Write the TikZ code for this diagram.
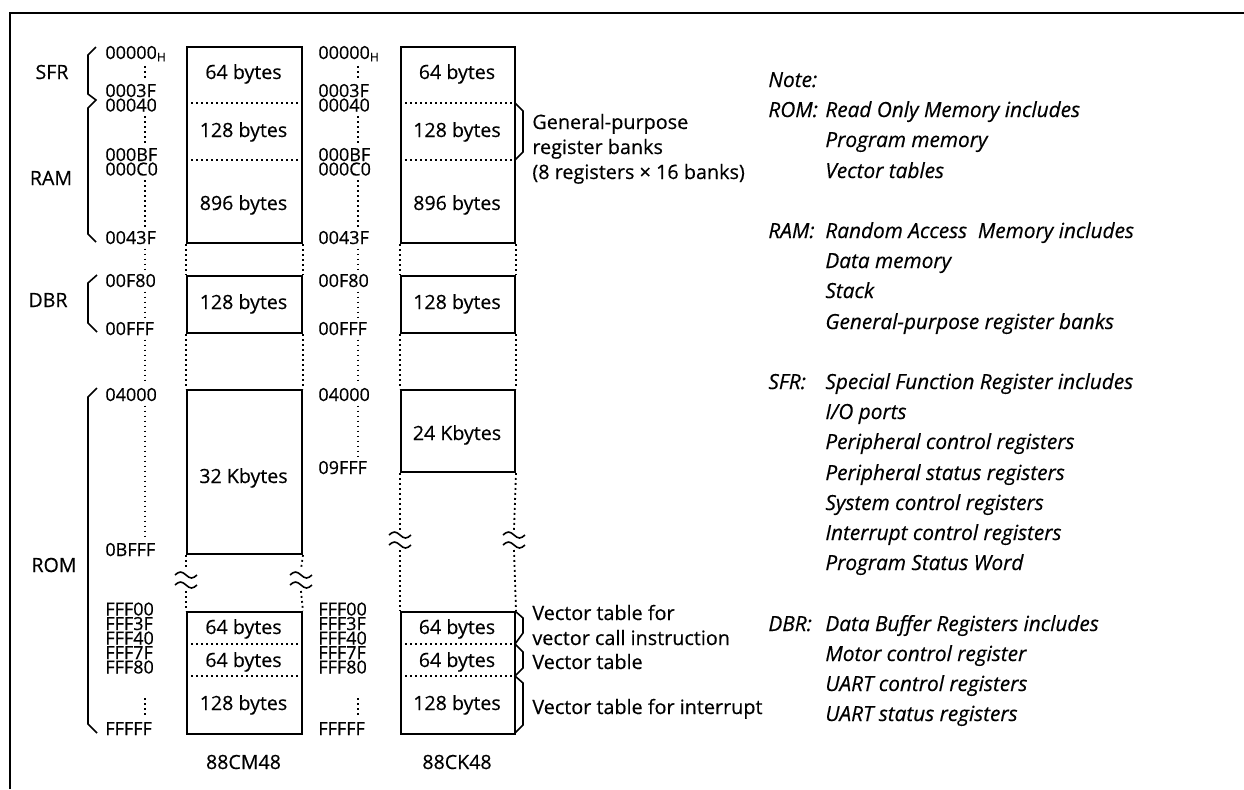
\documentclass[tikz,border=0pt]{standalone}
\usepackage{fontspec}
\setmainfont{Open Sans}[FakeBold=0.4]
\begin{document}
\begin{tikzpicture}[x=0.5pt, y=-0.5pt,
    every node/.style={font=\fontsize{9.8}{11}\selectfont, inner sep=0pt},
    addr/.style={anchor=base west, font=\fontsize{9}{10}\selectfont},
    remark/.style={anchor=base west, font=\fontsize{9.9}{11}\selectfont},
    size/.style={anchor=base},
    note/.style={anchor=base west, font=\fontsize{10.4}{12}\selectfont\itshape},
    blk/.style={draw, line width=1pt, anchor=north west, minimum width=57.5pt},
    dots/.style={line width=0.9pt, dash pattern=on 0.9pt off 1.6pt},
    gap/.style={dots, shorten <=2pt, shorten >=2pt},
    brace/.style={line width=0.8pt},
    pics/brk/.style={code={
        \draw[line width=0.8pt] (-11,-5) sin (-5.5,-8) cos (0,-5) sin (5.5,-2) cos (11,-5);
        \draw[line width=0.8pt] (-11,5) sin (-5.5,2) cos (0,5) sin (5.5,8) cos (11,5);
    }}]
    \useasboundingbox (0,0) rectangle (1244,789);

    % Frame
    \draw[line width=1.3pt] (10,789) -- (10,13) -- (1244,13);

    % Region labels and braces
    \node (lsfr) at (52,72) {SFR};
    \node (lram) at (51,178) {RAM};
    \node (ldbr) at (48,300) {DBR};
    \node (lrom) at (54,565) {ROM};
    \draw[brace] (96,47) -- (88,55) -- (88,94) -- (96,100) -- (88,108) -- (88,234) -- (96,242);
    \draw[brace] (97,275) -- (88,283) -- (88,323) -- (97,332);
    \draw[brace] (97,388) -- (88,397) -- (88,724) -- (97,733);

    % Addresses, 88CM48
    \node[addr] (a00000) at (105,59) {00000\textsubscript{H}};
    \node[addr] (a0003F) at (105,97) {0003F};
    \node[addr] (a00040) at (105,111.5) {00040};
    \node[addr] (a000BF) at (105,161) {000BF};
    \node[addr] (a000C0) at (105,175.5) {000C0};
    \node[addr] (a0043F) at (105,244) {0043F};
    \node[addr] (a00F80) at (105,287) {00F80};
    \node[addr] (a00FFF) at (105,335) {00FFF};
    \node[addr] (a04000) at (105,401) {04000};
    \node[addr] (a0BFFF) at (105,556) {0BFFF};
    \node[addr] (aFFF00) at (105,615.5) {FFF00};
    \node[addr] (aFFF3F) at (105,630) {FFF3F};
    \node[addr] (aFFF40) at (105,644.5) {FFF40};
    \node[addr] (aFFF7F) at (105,659) {FFF7F};
    \node[addr] (aFFF80) at (105,673.5) {FFF80};
    \node[addr] (aFFFFF) at (105,735) {FFFFF};
    \coordinate (ax) at (145,0);
    \draw[gap] (ax |- a00000.south) -- (ax |- a0003F.north);
    \draw[gap] (ax |- a00040.south) -- (ax |- a000BF.north);
    \draw[gap] (ax |- a000C0.south) -- (ax |- a0043F.north);
    \draw[gap] (ax |- a0043F.south) -- (ax |- a00F80.north);
    \draw[gap] (ax |- a00F80.south) -- (ax |- a00FFF.north);
    \draw[gap] (ax |- a00FFF.south) -- (ax |- a04000.north);
    \draw[gap] (ax |- a04000.south) -- (ax |- a0BFFF.north);
    \draw[dots, shorten <=12pt, shorten >=3pt] (ax |- aFFF80.south) -- (ax |- aFFFFF.north);

    % Addresses, 88CK48
    \node[addr] (b00000) at (318,59) {00000\textsubscript{H}};
    \node[addr] (b0003F) at (318,97) {0003F};
    \node[addr] (b00040) at (318,111.5) {00040};
    \node[addr] (b000BF) at (318,161) {000BF};
    \node[addr] (b000C0) at (318,175.5) {000C0};
    \node[addr] (b0043F) at (318,244) {0043F};
    \node[addr] (b00F80) at (318,287) {00F80};
    \node[addr] (b00FFF) at (318,335) {00FFF};
    \node[addr] (b04000) at (318,401) {04000};
    \node[addr] (b09FFF) at (318,474) {09FFF};
    \node[addr] (bFFF00) at (318,615.5) {FFF00};
    \node[addr] (bFFF3F) at (318,630) {FFF3F};
    \node[addr] (bFFF40) at (318,644.5) {FFF40};
    \node[addr] (bFFF7F) at (318,659) {FFF7F};
    \node[addr] (bFFF80) at (318,673.5) {FFF80};
    \node[addr] (bFFFFF) at (318,735) {FFFFF};
    \coordinate (bx) at (358,0);
    \draw[gap] (bx |- b00000.south) -- (bx |- b0003F.north);
    \draw[gap] (bx |- b00040.south) -- (bx |- b000BF.north);
    \draw[gap] (bx |- b000C0.south) -- (bx |- b0043F.north);
    \draw[gap] (bx |- b0043F.south) -- (bx |- b00F80.north);
    \draw[gap] (bx |- b00F80.south) -- (bx |- b00FFF.north);
    \draw[gap] (bx |- b00FFF.south) -- (bx |- b04000.north);
    \draw[gap] (bx |- b04000.south) -- (bx |- b09FFF.north);
    \draw[dots, shorten <=12pt, shorten >=3pt] (bx |- bFFF80.south) -- (bx |- bFFFFF.north);

    % Memory blocks, 88CM48
    \node[blk, minimum height=98pt] (cmram) at (186,46) {};
    \node[blk, minimum height=28.5pt] (cmdbr) at (186,275) {};
    \node[blk, minimum height=82pt] (cmrom) at (186,389) {};
    \node[blk, minimum height=61pt] (cmvec) at (186,611) {};
    \draw[dots] ([yshift=-28.5pt]cmram.north west) -- ([yshift=-28.5pt]cmram.north east);
    \draw[dots] ([yshift=-57pt]cmram.north west) -- ([yshift=-57pt]cmram.north east);
    \draw[dots] ([yshift=-16.5pt]cmvec.north west) -- ([yshift=-16.5pt]cmvec.north east);
    \draw[dots] ([yshift=-32.5pt]cmvec.north west) -- ([yshift=-32.5pt]cmvec.north east);
    \draw[dots] (cmram.south west) -- (cmdbr.north west);
    \draw[dots] (cmram.south east) -- (cmdbr.north east);
    \draw[dots] (cmdbr.south west) -- (cmrom.north west);
    \draw[dots] (cmdbr.south east) -- (cmrom.north east);
    \coordinate (cmbrkw) at (186,580);
    \coordinate (cmbrke) at (301,580);
    \draw[dots] (cmrom.south west) -- ([yshift=5.5pt]cmbrkw);
    \draw[dots] (cmrom.south east) -- ([yshift=5.5pt]cmbrke);
    \draw[dots] ([yshift=-5.5pt]cmbrkw) -- (cmvec.north west);
    \draw[dots] ([yshift=-5.5pt]cmbrke) -- (cmvec.north east);
    \pic at (cmbrkw) {brk};
    \pic at (cmbrke) {brk};
    \node[size] (cms1) at (243.5,79) {64 bytes};
    \node[size] (cms2) at (243.5,137) {128 bytes};
    \node[size] (cms3) at (243.5,210) {896 bytes};
    \node[size] (cms4) at (243.5,309) {128 bytes};
    \node[size] (cms5) at (243.5,483) {32 Kbytes};
    \node[size] (cms6) at (243.5,634) {64 bytes};
    \node[size] (cms7) at (243.5,667) {64 bytes};
    \node[size] (cms8) at (243.5,710) {128 bytes};
    \node[size] (cmname) at (243.5,769) {88CM48};

    % Memory blocks, 88CK48
    \node[blk, minimum width=57pt, minimum height=98pt] (ckram) at (400,46) {};
    \node[blk, minimum width=57pt, minimum height=28.5pt] (ckdbr) at (400,275) {};
    \node[blk, minimum width=57pt, minimum height=41pt] (ckrom) at (400,389) {};
    \node[blk, minimum width=57pt, minimum height=61pt] (ckvec) at (400,611) {};
    \draw[dots] ([yshift=-28.5pt]ckram.north west) -- ([yshift=-28.5pt]ckram.north east);
    \draw[dots] ([yshift=-57pt]ckram.north west) -- ([yshift=-57pt]ckram.north east);
    \draw[dots] ([yshift=-16.5pt]ckvec.north west) -- ([yshift=-16.5pt]ckvec.north east);
    \draw[dots] ([yshift=-32.5pt]ckvec.north west) -- ([yshift=-32.5pt]ckvec.north east);
    \draw[dots] (ckram.south west) -- (ckdbr.north west);
    \draw[dots] (ckram.south east) -- (ckdbr.north east);
    \draw[dots] (ckdbr.south west) -- (ckrom.north west);
    \draw[dots] (ckdbr.south east) -- (ckrom.north east);
    \coordinate (ckbrkw) at (400,540);
    \coordinate (ckbrke) at (514,540);
    \draw[dots] (ckrom.south west) -- ([yshift=5pt]ckbrkw);
    \draw[dots] (ckrom.south east) -- ([yshift=5pt]ckbrke);
    \draw[dots] ([yshift=-5pt]ckbrkw) -- (ckvec.north west);
    \draw[dots] ([yshift=-5pt]ckbrke) -- (ckvec.north east);
    \pic at (ckbrkw) {brk};
    \pic at (ckbrke) {brk};
    \node[size] (cks1) at (457,79) {64 bytes};
    \node[size] (cks2) at (457,137) {128 bytes};
    \node[size] (cks3) at (457,210) {896 bytes};
    \node[size] (cks4) at (457,309) {128 bytes};
    \node[size] (cks5) at (457,440) {24 Kbytes};
    \node[size] (cks6) at (457,634) {64 bytes};
    \node[size] (cks7) at (457,667) {64 bytes};
    \node[size] (cks8) at (457,710) {128 bytes};
    \node[size] (ckname) at (457,769) {88CK48};

    % Right braces and remarks
    \draw[brace] (515,103) -- (523,111) -- (523,152) -- (515,160);
    \draw[brace] (515,611) -- (523,618) -- (523,633) -- (515,644) -- (523,652) -- (523,668) -- (515,676) -- (523,683) -- (523,725) -- (515,733);
    \node[remark] (gpr1) at (532,129) {General-purpose};
    \node[remark] (gpr2) at (532,154) {register banks};
    \node[remark] (gpr3) at (532,179) {(8 registers × 16 banks)};
    \node[remark] (vcall1) at (532,620) {Vector table for};
    \node[remark] (vcall2) at (532,645) {vector call instruction};
    \node[remark] (vtab) at (532,669) {Vector table};
    \node[remark] (vint) at (532,714) {Vector table for interrupt};

    % Note
    \node[note] (nnote) at (768,87) {Note:};
    \node[note] (nrom) at (768,117) {ROM:};
    \node[note] (nromt) at (825,117) {Read Only Memory includes};
    \node[note] (nprog) at (825,147) {Program memory};
    \node[note] (nvect) at (825,178) {Vector tables};
    \node[note] (nram) at (768,238) {RAM:};
    \node[note] (nramt) at (825,238) {Random Access\ \ Memory includes};
    \node[note] (ndata) at (825,268) {Data memory};
    \node[note] (nstack) at (825,298) {Stack};
    \node[note] (ngpr) at (825,329) {General-purpose register banks};
    \node[note] (nsfr) at (768,389) {SFR:};
    \node[note] (nsfrt) at (825,389) {Special Function Register includes};
    \node[note] (nio) at (825,419) {I/O ports};
    \node[note] (npc) at (825,449) {Peripheral control registers};
    \node[note] (nps) at (825,480) {Peripheral status registers};
    \node[note] (nsc) at (825,510) {System control registers};
    \node[note] (nic) at (825,540) {Interrupt control registers};
    \node[note] (npsw) at (825,570) {Program Status Word};
    \node[note] (ndbr) at (768,631) {DBR:};
    \node[note] (ndbrt) at (825,631) {Data Buffer Registers includes};
    \node[note] (nmotor) at (825,661) {Motor control register};
    \node[note] (nuc) at (825,691) {UART control registers};
    \node[note] (nus) at (825,721) {UART status registers};
\end{tikzpicture}
\end{document}
